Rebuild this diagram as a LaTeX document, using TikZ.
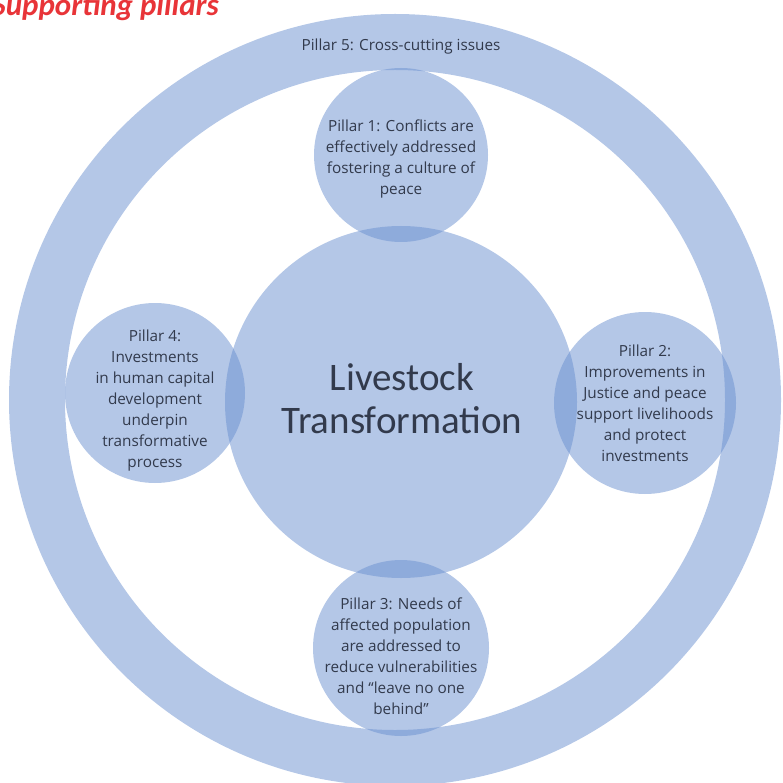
\documentclass[tikz,border=0pt]{standalone}
\usepackage{fontspec}
\setmainfont{Carlito}
\newfontfamily\pillarfont{Open Sans}
\definecolor{pillarblue}{RGB}{105,143,207}
\definecolor{txtgray}{RGB}{50,58,76}
\definecolor{titlered}{RGB}{232,52,56}
\begin{document}
\begin{tikzpicture}[x=1pt,y=-1pt,
  disc/.style={circle,fill=pillarblue,fill opacity=0.5,draw=none,minimum size=#1,inner sep=0pt},
  ptext/.style={text=txtgray,align=center,font=\pillarfont\fontsize{15.3}{21}\selectfont},
  ctext/.style={text=txtgray,align=center,font=\fontsize{39}{43}\selectfont}]
\useasboundingbox (0,0) rectangle (782,783);
% outer ring (Pillar 5)
\coordinate (ringc) at (395,400);
\fill[pillarblue,fill opacity=0.5,even odd rule] (ringc) circle[radius=386] (ringc) circle[radius=330];
% circles
\node[disc=352pt] (core) at (401,402) {};
\node[disc=174pt] (p1) at (401,155) {};
\node[disc=180pt] (p4) at (155,393) {};
\node[disc=182pt] (p2) at (645,403) {};
\node[disc=176pt] (p3) at (401,648) {};
% texts
\node[ptext] (t5) at (401,47) {Pillar 5: Cross-cutting issues};
\node[ptext] (t1) at (401,159) {Pillar 1: Conflicts are\\effectively addressed\\fostering a culture of\\peace};
\node[ptext] (t4) at (155,401) {Pillar 4:\\Investments\\in human capital\\development\\underpin\\transformative\\process};
\node[ptext] (t2) at (645,403) {Pillar 2:\\Improvements in\\Justice and peace\\support livelihoods\\and protect\\investments};
\node[ptext] (t3) at (401,656) {Pillar 3: Needs of\\affected population\\are addressed to\\reduce vulnerabilities\\and “leave no one\\behind”};
\node[ctext] (tc) at (402,399) {Livestock\\Transformation};
\node[text=titlered,font=\fontsize{31}{34}\bfseries\itshape\selectfont,anchor=base east,inner sep=0pt] (title) at (219,16) {Supporting pillars};
\end{tikzpicture}
\end{document}
